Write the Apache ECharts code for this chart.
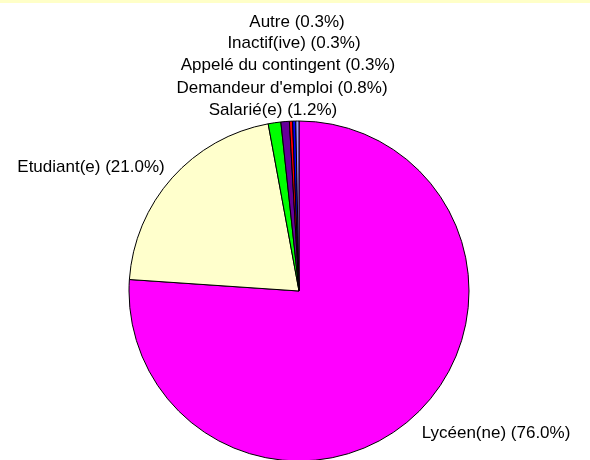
<!DOCTYPE html>
<html>
<head>
<meta charset="utf-8">
<script src="https://cdn.jsdelivr.net/npm/echarts@6/dist/echarts.min.js"></script>
<style>
  html, body { margin: 0; padding: 0; background: #fff; }
  #chart { width: 590px; height: 460px; box-sizing: border-box; border-top: 3px solid #ffffc8; }
</style>
</head>
<body>
<div id="chart"></div>
<script>
// Données
const categories = ['Lycéen(ne)', 'Etudiant(e)', 'Salarié(e)', "Demandeur d'emploi", 'Appelé du contingent', 'Inactif(ive)', 'Autre']
const values = [76.0, 21.0, 1.2, 0.8, 0.3, 0.3, 0.3]
const colors = ['#ff00ff', '#ffffcc', '#00ff00', '#660099', '#ff0000', '#0000ff', '#9999ff']

// Position des étiquettes (centre du texte)
const labelPos = [
  [496, 430], [91, 164], [273, 107], [282, 85], [288, 62], [294, 40], [297, 19]
]

const chart = echarts.init(document.getElementById('chart'))

chart.setOption({
  animation: false,
  series: [
    {
      type: 'pie',
      center: [299, 288],
      radius: 170,
      startAngle: 90,
      clockwise: true,
      avoidLabelOverlap: false,
      itemStyle: {
        borderColor: '#000',
        borderWidth: 1
      },
      label: {
        show: true,
        position: 'outside',
        color: '#000',
        fontFamily: 'Liberation Sans, Arial, sans-serif',
        fontSize: 17,
        formatter: (p) => `${p.name} (${p.value.toFixed(1)}%)`
      },
      labelLine: { show: false },
      labelLayout: (params) => ({
        x: labelPos[params.dataIndex][0],
        y: labelPos[params.dataIndex][1],
        align: 'center',
        verticalAlign: 'middle'
      }),
      emphasis: { disabled: true },
      data: categories.map((name, i) => ({
        name,
        value: values[i],
        itemStyle: { color: colors[i] }
      }))
    }
  ]
})
</script>
</body>
</html>
